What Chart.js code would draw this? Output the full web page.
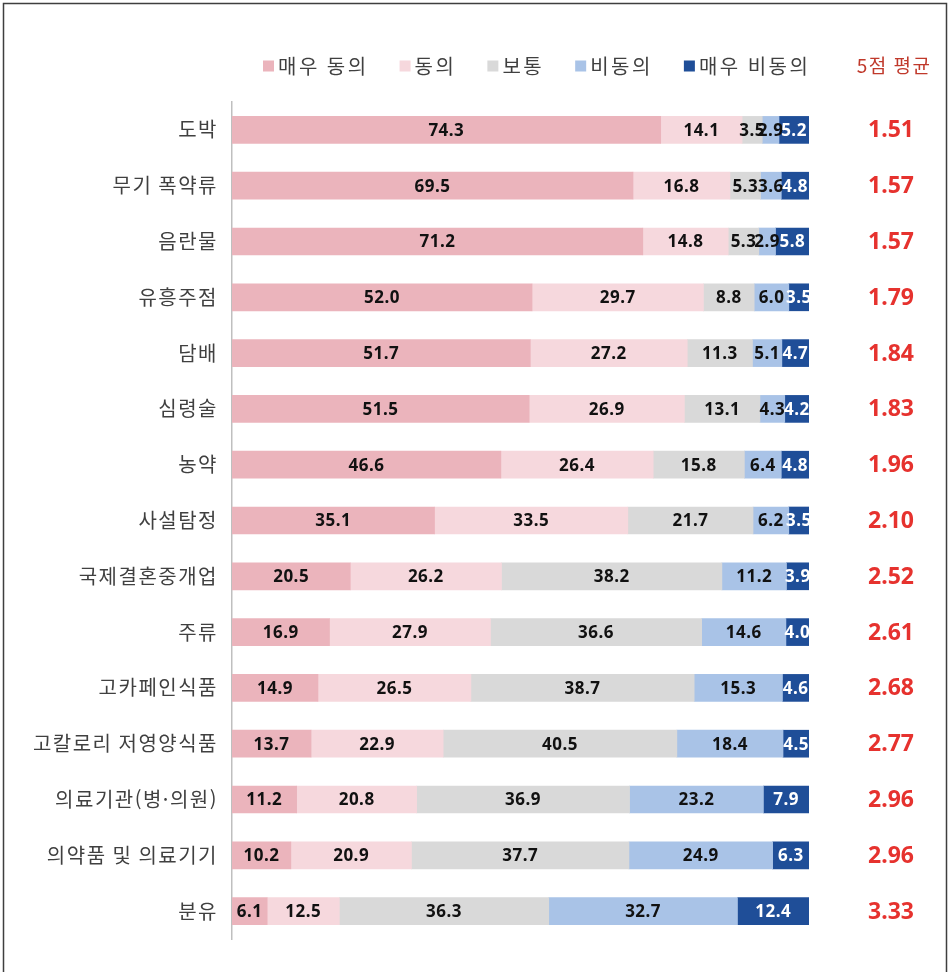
<!DOCTYPE html>
<html lang="ko">
<head>
<meta charset="utf-8">
<title>항목별 광고 규제 동의 정도</title>
<script src="https://cdn.jsdelivr.net/npm/chart.js@4.4.1/dist/chart.umd.min.js"></script>
<style>
  html, body { margin: 0; padding: 0; background: #fff; }
  #wrap { position: relative; width: 950px; height: 972px; }
</style>
</head>
<body>
<div id="wrap"><canvas id="surveyChart" width="950" height="972"></canvas></div>
<script>
// 항목 목록
const categories = [
    '도박', '무기 폭약류', '음란물', '유흥주점', '담배', '심령술', '농약', '사설탐정',
    '국제결혼중개업', '주류', '고카페인식품', '고칼로리 저영양식품',
    '의료기관(병·의원)', '의약품 및 의료기기', '분유'
];

// 응답 비율 (%)
const stronglyAgree    = [74.3, 69.5, 71.2, 52.0, 51.7, 51.5, 46.6, 35.1, 20.5, 16.9, 14.9, 13.7, 11.2, 10.2, 6.1];
const agree            = [14.1, 16.8, 14.8, 29.7, 27.2, 26.9, 26.4, 33.5, 26.2, 27.9, 26.5, 22.9, 20.8, 20.9, 12.5];
const neutral          = [3.5, 5.3, 5.3, 8.8, 11.3, 13.1, 15.8, 21.7, 38.2, 36.6, 38.7, 40.5, 36.9, 37.7, 36.3];
const disagree         = [2.9, 3.6, 2.9, 6.0, 5.1, 4.3, 6.4, 6.2, 11.2, 14.6, 15.3, 18.4, 23.2, 24.9, 32.7];
const stronglyDisagree = [5.2, 4.8, 5.8, 3.5, 4.7, 4.2, 4.8, 3.5, 3.9, 4.0, 4.6, 4.5, 7.9, 6.3, 12.4];

// 5점 평균
const averages = ['1.51', '1.57', '1.57', '1.79', '1.84', '1.83', '1.96', '2.10', '2.52', '2.61', '2.68', '2.77', '2.96', '2.96', '3.33'];

const seriesNames = ['매우 동의', '동의', '보통', '비동의', '매우 비동의'];
const seriesColors = ['#EBB4BC', '#F6D8DD', '#D9D9D9', '#A9C3E7', '#1F4E98'];
const labelColors = ['#111', '#111', '#111', '#111', '#fff'];

const KR_FONT = "'Noto Sans CJK KR', 'Noto Sans', sans-serif";

// 한글 라벨은 자간을 조금 넓혀서 그림 (축 라벨은 데이터보다 먼저 그려짐)
const spacing = {
    id: 'spacing',
    beforeDraw(chart) { chart.ctx.letterSpacing = '1.5px'; },
    beforeDatasetsDraw(chart) { chart.ctx.letterSpacing = '0px'; }
};

// 막대 위 수치 표시
const valueLabels = {
    id: 'valueLabels',
    afterDatasetsDraw(chart) {
        const ctx = chart.ctx;
        ctx.save();
        ctx.font = "bold 17px 'Noto Sans', sans-serif";
        ctx.letterSpacing = '0.5px';
        ctx.textAlign = 'center';
        ctx.textBaseline = 'middle';
        chart.data.datasets.forEach((ds, i) => {
            const meta = chart.getDatasetMeta(i);
            meta.data.forEach((bar, j) => {
                const p = bar.getProps(['x', 'base', 'y'], true);
                ctx.fillStyle = labelColors[i];
                ctx.fillText(ds.data[j].toFixed(1), (p.x + p.base) / 2, p.y + 1);
            });
        });
        ctx.restore();
    }
};

// 범례, 평균 열, 바깥 테두리
const extras = {
    id: 'extras',
    afterDraw(chart) {
        const ctx = chart.ctx;
        const yScale = chart.scales.y;
        ctx.save();

        // 바깥 테두리 (아래쪽은 열려 있음)
        ctx.strokeStyle = '#3f3f3f';
        ctx.lineWidth = 1.5;
        ctx.beginPath();
        ctx.moveTo(3.5, 972);
        ctx.lineTo(3.5, 3.5);
        ctx.lineTo(946.5, 3.5);
        ctx.lineTo(946.5, 972);
        ctx.stroke();

        // 범례
        ctx.font = '20px ' + KR_FONT;
        ctx.letterSpacing = '2.5px';
        ctx.textBaseline = 'middle';
        ctx.textAlign = 'left';
        let x = 263;
        const ly = 66;
        chart.data.datasets.forEach(ds => {
            ctx.fillStyle = ds.backgroundColor;
            ctx.fillRect(x, ly - 5.5, 11, 11);
            x += 15;
            ctx.fillStyle = '#404040';
            ctx.fillText(ds.label, x, ly);
            x += ctx.measureText(ds.label).width + 31;
        });

        // 5점 평균
        ctx.letterSpacing = '1.5px';
        ctx.textAlign = 'center';
        ctx.fillStyle = '#C0392B';
        ctx.font = '19px ' + KR_FONT;
        ctx.fillText('5점 평균', 894, ly);
        ctx.letterSpacing = '0px';
        ctx.fillStyle = '#E6322E';
        ctx.font = "bold 23px 'Noto Sans', sans-serif";
        averages.forEach((v, i) => {
            ctx.fillText(v, 891, yScale.getPixelForValue(i) + 1);
        });
        ctx.restore();
    }
};

const ctx = document.getElementById('surveyChart').getContext('2d');
const datasets = [stronglyAgree, agree, neutral, disagree, stronglyDisagree].map((d, i) => ({
    label: seriesNames[i],
    data: d,
    backgroundColor: seriesColors[i],
    borderWidth: 0,
    barThickness: 27
}));

new Chart(ctx, {
    type: 'bar',
    data: { labels: categories, datasets: datasets },
    options: {
        indexAxis: 'y',
        responsive: false,
        animation: false,
        layout: { padding: { top: 102, bottom: 33, right: 141, left: 0 } },
        plugins: {
            legend: { display: false },
            tooltip: { enabled: false }
        },
        scales: {
            x: {
                stacked: true,
                min: 0,
                max: 100,
                display: false
            },
            y: {
                stacked: true,
                grid: { display: false, drawTicks: false },
                border: { display: true, color: '#BFBFBF', width: 1.5 },
                ticks: {
                    padding: 14,
                    color: '#404040',
                    font: { family: KR_FONT, size: 20 }
                },
                afterFit(scale) { scale.width = 232; }
            }
        }
    },
    plugins: [spacing, valueLabels, extras]
});
</script>
</body>
</html>
